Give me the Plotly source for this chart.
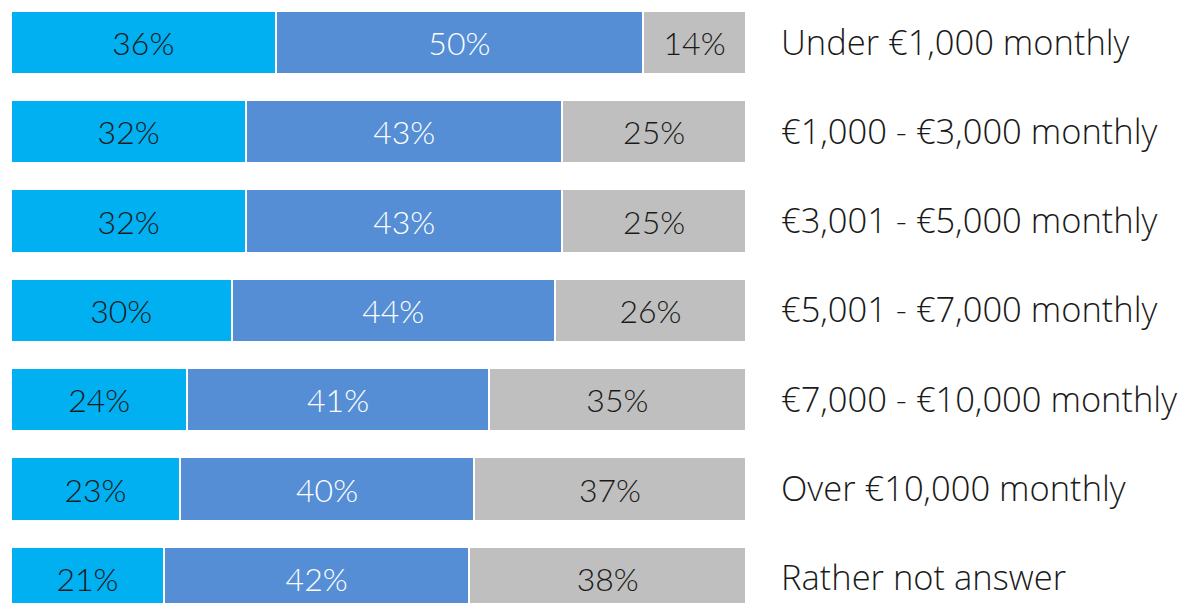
import plotly.graph_objects as go

# income bands, top to bottom
categories = [
    "Under €1,000 monthly",
    "€1,000 - €3,000 monthly",
    "€3,001 - €5,000 monthly",
    "€5,001 - €7,000 monthly",
    "€7,000 - €10,000 monthly",
    "Over €10,000 monthly",
    "Rather not answer",
]
seg_a = [36, 32, 32, 30, 24, 23, 21]
seg_b = [50, 43, 43, 44, 41, 40, 42]
seg_c = [14, 25, 25, 26, 35, 37, 38]

series = [
    ("A", seg_a, "#00B0F0", "#1a1a1a"),
    ("B", seg_b, "#558ED5", "#ffffff"),
    ("C", seg_c, "#BFBFBF", "#1a1a1a"),
]

fig = go.Figure()
for name, vals, col, txtcol in series:
    fig.add_trace(go.Bar(
        y=categories, x=vals, orientation="h", name=name,
        marker=dict(color=col, line=dict(color="white", width=2)),
        text=[f"{v}%" for v in vals],
        textposition="inside", insidetextanchor="middle",
        textfont=dict(family="Lato Light, Roboto Light, Lato", size=32, color=txtcol, weight=300),
        hoverinfo="skip",
    ))

# the page body adds an 8px offset, so margins are trimmed to match
fig.update_layout(
    barmode="stack", barnorm="percent", bargap=0.29,
    width=1186, height=603,
    margin=dict(l=3, r=448, t=0, b=0, autoexpand=False),
    paper_bgcolor="white", plot_bgcolor="white",
    showlegend=False,
    uniformtext=dict(minsize=32, mode="show"),
    xaxis=dict(visible=False, range=[0, 100], fixedrange=True, automargin=False),
    yaxis=dict(
        side="right", range=[6.366, -0.386], showgrid=False, zeroline=False,
        showline=False, ticks="", ticklabelstandoff=34, automargin=False,
        tickfont=dict(family="Open Sans Light, Open Sans", size=34.5, color="#1a1a1a", weight=300),
    ),
)

fig.write_html("out.html")
